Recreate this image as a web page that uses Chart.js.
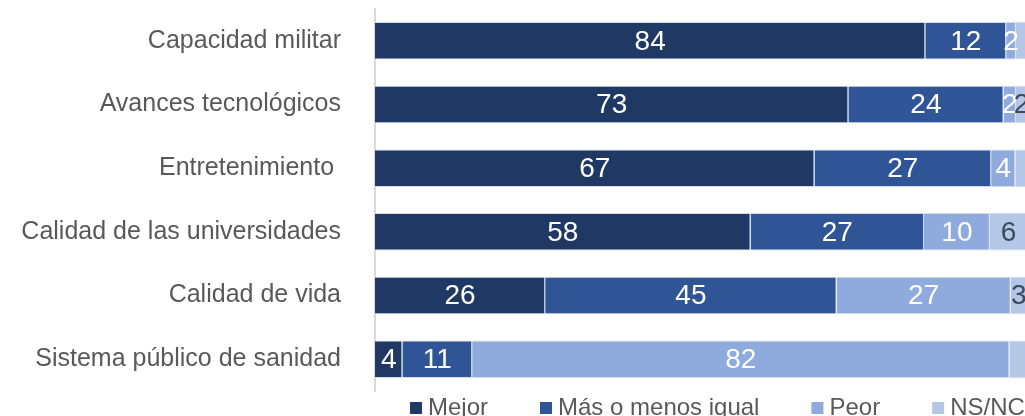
<!DOCTYPE html>
<html><head><meta charset="utf-8">
<script src="https://cdn.jsdelivr.net/npm/chart.js@4.4.1/dist/chart.umd.min.js"></script>
<style>
html,body{margin:0;padding:0;background:#fff;overflow:hidden;width:1025px;height:416px;}
#wrap{position:absolute;left:0;top:0;width:1034px;height:416px;}
</style></head><body>
<div id="wrap"><canvas id="c" width="1034" height="416"></canvas></div>
<script>
const categories = ['Capacidad militar','Avances tecnológicos','Entretenimiento ','Calidad de las universidades','Calidad de vida','Sistema público de sanidad'];
const seriesNames = ['Mejor','Más o menos igual','Peor','NS/NC'];
const mejor = [84.4, 72.6, 67.4, 57.6, 26.1, 4.2];
const igual = [12.4, 23.8, 27.1, 26.6, 44.7, 10.7];
const peor  = [1.5, 1.9, 3.7, 10.1, 26.7, 82.4];
const nsnc  = [1.7, 1.7, 1.8, 5.7, 2.5, 2.7];
const nsncLabelShown = [false, true, false, true, true, false];
const colors = ['#203864', '#2F5597', '#8FAADC', '#B4C7E7'];
const labelColors = ['#ffffff', '#ffffff', '#ffffff', '#3E4A5C'];
const FONT = "'Liberation Sans', Arial, sans-serif";

const dataLabelPlugin = {
  id: 'dataLabels',
  afterDatasetsDraw(chart) {
    const ctx = chart.ctx;
    ctx.save();
    ctx.font = '28px ' + FONT;
    ctx.textAlign = 'center';
    ctx.textBaseline = 'middle';
    chart.data.datasets.forEach((ds, di) => {
      const meta = chart.getDatasetMeta(di);
      meta.data.forEach((el, i) => {
        if (di === 3 && !nsncLabelShown[i]) return;
        const v = ds.data[i];
        const cx = (el.x + el.base) / 2;
        ctx.fillStyle = labelColors[di];
        ctx.fillText(String(Math.round(v)), cx, el.y + 1);
      });
    });
    ctx.restore();
  }
};

const legendPlugin = {
  id: 'customLegend',
  afterDraw(chart, args, opts) {
    const ctx = chart.ctx;
    ctx.save();
    ctx.font = opts.font;
    ctx.textBaseline = 'alphabetic';
    ctx.textAlign = 'left';
    let x = opts.startX;
    chart.data.datasets.forEach(ds => {
      ctx.fillStyle = ds.backgroundColor;
      ctx.fillRect(x, opts.boxY, opts.box, opts.box);
      x += opts.box + opts.boxGap;
      ctx.fillStyle = opts.color;
      ctx.fillText(ds.label, x, opts.baseline);
      x += ctx.measureText(ds.label).width + opts.itemGap;
    });
    ctx.restore();
  }
};

const seriesData = [mejor, igual, peor, nsnc];
new Chart(document.getElementById('c'), {
  type: 'bar',
  data: {
    labels: categories,
    datasets: seriesNames.map((n, i) => ({
      label: n,
      data: seriesData[i],
      backgroundColor: colors[i],
      borderColor: '#d3dbea',
      borderWidth: 1,
      borderSkipped: 'start',
      barPercentage: 0.59,
      categoryPercentage: 1.0
    }))
  },
  options: {
    indexAxis: 'y',
    responsive: false,
    animation: false,
    devicePixelRatio: 1,
    layout: { padding: { top: 9, bottom: 25, left: 0, right: 7 } },
    scales: {
      x: { stacked: true, min: 0, max: 100, display: false },
      y: {
        stacked: true,
        grid: { display: false, drawTicks: false },
        border: { display: true, color: '#d9d9d9', width: 2 },
        ticks: { color: '#595959', font: { family: FONT, size: 25 }, padding: 34 },
        afterFit(scale) { scale.width = 375; scale.paddingTop = 0; scale.paddingBottom = 0; }
      }
    },
    plugins: {
      legend: { display: false },
      tooltip: { enabled: false },
      customLegend: { font: '24px ' + FONT, color: '#595959', startX: 410, boxY: 402, box: 12, boxGap: 6, baseline: 415, itemGap: 52 }
    }
  },
  plugins: [dataLabelPlugin, legendPlugin]
});
</script>
</body></html>
